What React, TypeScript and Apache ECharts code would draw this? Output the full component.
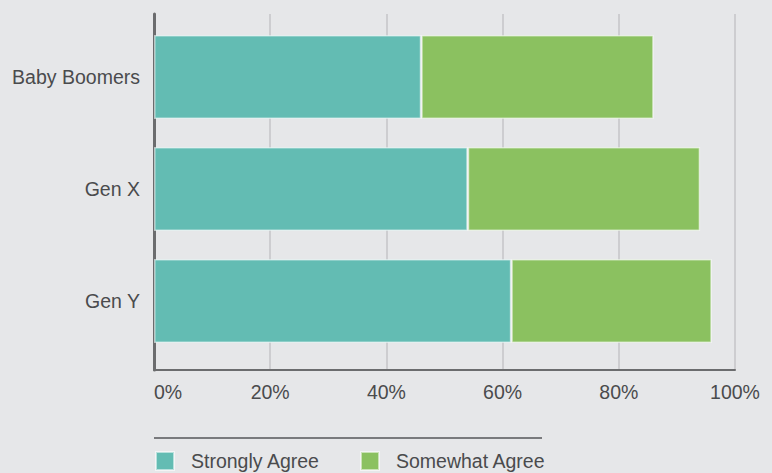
import React, { useEffect, useRef } from "react";
import * as echarts from "echarts";

const categories = ["Baby Boomers", "Gen X", "Gen Y"];
const stronglyAgree = [46, 54, 61.5];
const somewhatAgree = [40, 40, 34.5];
const xTicks = [0, 20, 40, 60, 80, 100];
const seriesNames = ["Strongly Agree", "Somewhat Agree"];

const FONT = "'Liberation Sans', Arial, sans-serif";
const TEXT = "#4a4b4d";
const FS = 19.5;

export default function App() {
  const ref = useRef<HTMLDivElement>(null);
  useEffect(() => {
    if (!ref.current) return;
    const chart = echarts.init(ref.current, undefined, { renderer: "svg" });
    chart.setOption({
      animation: false,
      backgroundColor: "#e6e7e9",
      textStyle: { fontFamily: FONT },
      grid: [
        { left: 154, right: 37, top: 14, bottom: 103, outerBoundsMode: "none" },
        { left: 154, right: 37, top: 21, bottom: 116, outerBoundsMode: "none" },
      ],
      xAxis: [
        {
          gridIndex: 0,
          type: "value",
          min: xTicks[0],
          max: xTicks[xTicks.length - 1],
          interval: 20,
          axisLine: { show: true, lineStyle: { color: "#6b6c6e", width: 2 } },
          axisTick: { show: false },
          splitLine: { show: true, lineStyle: { color: "#c4c5c7", width: 1.5 } },
          axisLabel: {
            formatter: "{value}%",
            color: TEXT,
            fontSize: FS,
            fontFamily: FONT,
            margin: 12,
            alignMinLabel: "left",
          },
        },
        {
          gridIndex: 1,
          type: "value",
          min: 0,
          max: 100,
          show: false,
        },
      ],
      yAxis: [
        {
          gridIndex: 0,
          type: "value",
          min: 0,
          max: 1,
          axisLine: { show: true, lineStyle: { color: "#6b6c6e", width: 3 } },
          axisTick: { show: false },
          axisLabel: { show: false },
          splitLine: { show: false },
        },
        {
          gridIndex: 1,
          type: "category",
          inverse: true,
          data: categories,
          axisLine: { show: false },
          axisTick: { show: false },
          splitLine: { show: false },
          axisLabel: {
            color: TEXT,
            fontSize: FS,
            fontFamily: FONT,
            margin: 14,
          },
        },
      ],
      legend: {
        left: 155,
        top: 451,
        padding: 0,
        itemWidth: 18,
        itemHeight: 18,
        itemGap: 40,
        icon: "rect",
        data: seriesNames,
        textStyle: {
          color: TEXT,
          fontSize: FS,
          fontFamily: FONT,
          padding: [0, 0, 0, 12],
        },
      },
      graphic: [
        {
          type: "line",
          shape: { x1: 154, y1: 438, x2: 542, y2: 438 },
          style: { stroke: "#555658", lineWidth: 1.5 },
        },
      ],
      series: [
        {
          name: seriesNames[0],
          type: "bar",
          stack: "total",
          xAxisIndex: 1,
          yAxisIndex: 1,
          barWidth: 84,
          data: stronglyAgree,
          itemStyle: {
            color: "#63bcb3",
            borderColor: "rgba(255,255,255,0.55)",
            borderWidth: 1.5,
          },
        },
        {
          name: seriesNames[1],
          type: "bar",
          stack: "total",
          xAxisIndex: 1,
          yAxisIndex: 1,
          barWidth: 84,
          data: somewhatAgree,
          itemStyle: {
            color: "#8bc160",
            borderColor: "rgba(255,255,255,0.55)",
            borderWidth: 1.5,
          },
        },
      ],
    });
    return () => chart.dispose();
  }, []);
  return (
    <div
      ref={ref}
      style={{ position: "fixed", left: 0, top: 0, width: 772, height: 473 }}
    />
  );
}
